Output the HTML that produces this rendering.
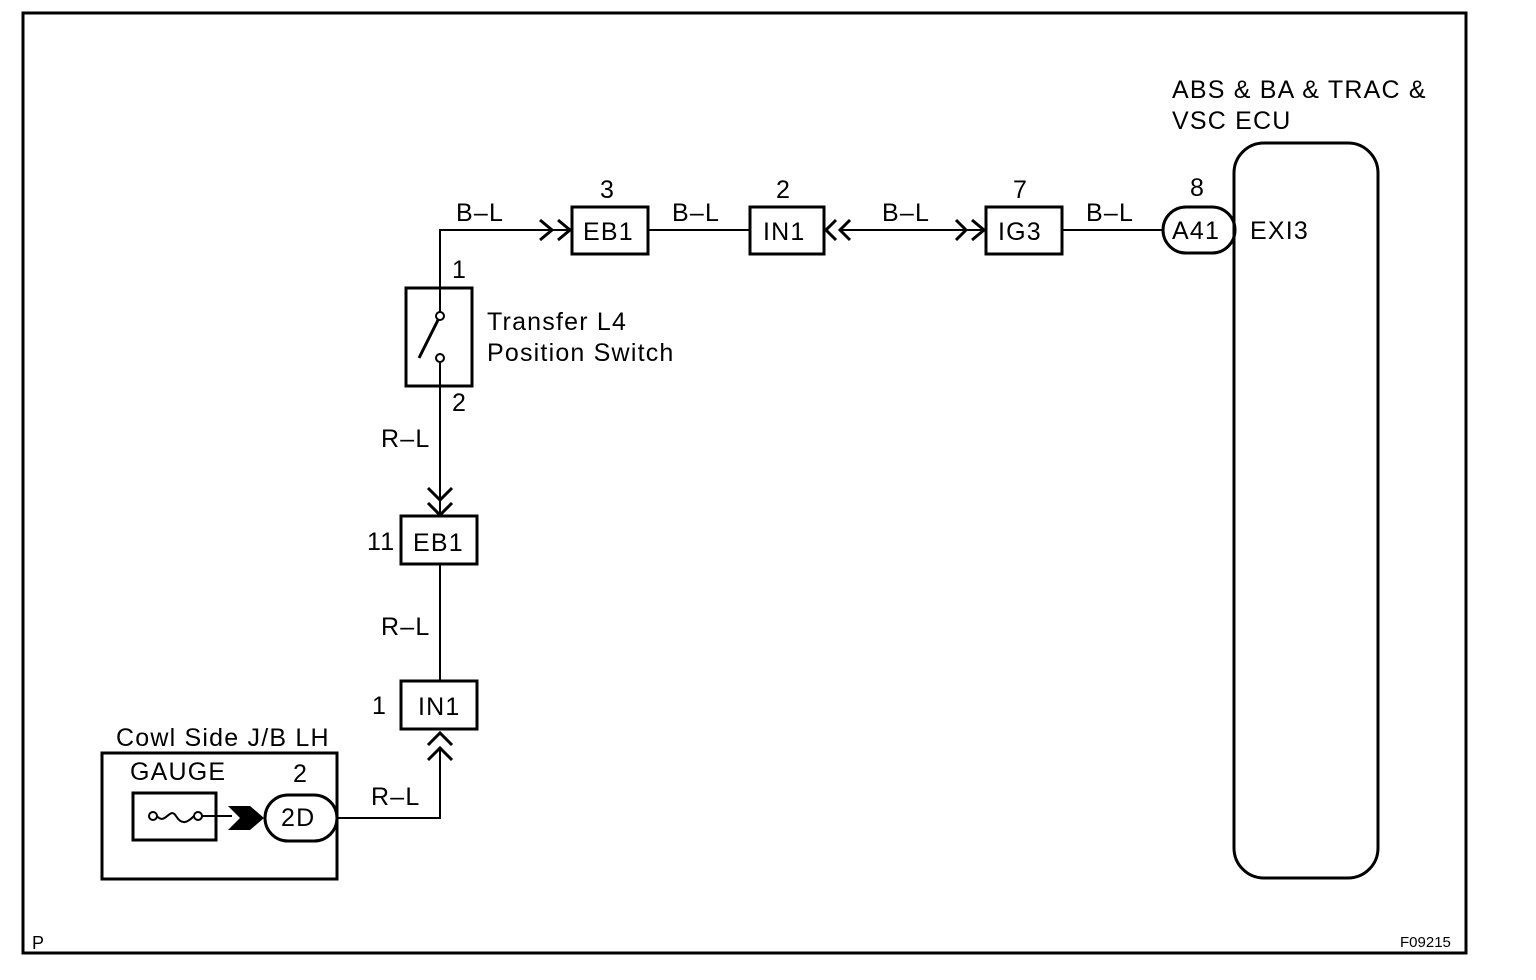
<!DOCTYPE html>
<html><head><meta charset="utf-8"><style>
html,body{margin:0;padding:0;background:#fff}
svg{display:block}
text{font-family:"Liberation Sans",Arial,sans-serif;font-size:25px;letter-spacing:1.2px;fill:#000}
</style></head><body>
<svg width="1536" height="980" viewBox="0 0 1536 980" xmlns="http://www.w3.org/2000/svg">
<g fill="none" stroke="#000">
<rect x="23" y="13" width="1443" height="940" stroke-width="3"/>
<polyline points="440,288 440,230 568,230" stroke-width="2"/>
<polyline points="540,220 552,230 540,240" stroke-width="3"/>
<polyline points="558,220 570,230 558,240" stroke-width="3"/>
<rect x="572" y="207" width="76" height="47" stroke-width="3"/>
<line x1="648" y1="230" x2="750" y2="230" stroke-width="2"/>
<rect x="750" y="207" width="74" height="47" stroke-width="3"/>
<polyline points="836,220 826,230 836,240" stroke-width="3"/>
<polyline points="850,220 840,230 850,240" stroke-width="3"/>
<line x1="840" y1="230" x2="984" y2="230" stroke-width="2"/>
<polyline points="956,220 966,230 956,240" stroke-width="3"/>
<polyline points="972,220 984,230 972,240" stroke-width="3"/>
<rect x="986" y="207" width="76" height="47" stroke-width="3"/>
<line x1="1062" y1="230" x2="1163" y2="230" stroke-width="2"/>
<rect x="1163" y="207" width="72" height="46" rx="23" stroke-width="3"/>
<rect x="1234" y="143" width="144" height="735" rx="30" stroke-width="3"/>
<rect x="406" y="288" width="66" height="98" stroke-width="3"/>
<circle cx="440" cy="316" r="4" stroke-width="2"/>
<circle cx="440" cy="358" r="4" stroke-width="2"/>
<line x1="419" y1="358" x2="438" y2="320" stroke-width="3"/>
<line x1="440" y1="288" x2="440" y2="312" stroke-width="2"/>
<line x1="440" y1="362" x2="440" y2="386" stroke-width="2"/>
<line x1="440" y1="386" x2="440" y2="513" stroke-width="2"/>
<polyline points="428,488 440,500 452,488" stroke-width="3"/>
<polyline points="428,503 440,515 452,503" stroke-width="3"/>
<rect x="401" y="516" width="76" height="48" stroke-width="3"/>
<line x1="440" y1="564" x2="440" y2="681" stroke-width="2"/>
<rect x="401" y="681" width="76" height="48" stroke-width="3"/>
<polyline points="428,745 440,733 452,745" stroke-width="3"/>
<polyline points="428,760 440,748 452,760" stroke-width="3"/>
<polyline points="440,748 440,818 337,818" stroke-width="2"/>
<rect x="102" y="753" width="235" height="126" stroke-width="3"/>
<rect x="133" y="793" width="83" height="47" stroke-width="3"/>
<circle cx="153" cy="816" r="4" stroke-width="2"/>
<circle cx="198" cy="816" r="4" stroke-width="2"/>
<path d="M157,816 C165,826 170,806 176,816 S188,822 194,816" stroke-width="2"/>
<line x1="202" y1="816" x2="232" y2="816" stroke-width="2"/>
<rect x="265" y="795" width="72" height="46" rx="23" stroke-width="3"/>
</g>
<polygon points="228,806 250,806 264,818 250,830 228,830 240,818" fill="#000"/>
<text x="456" y="221">B–L</text>
<text x="600" y="198">3</text>
<text x="583" y="240">EB1</text>
<text x="672" y="221">B–L</text>
<text x="776" y="198">2</text>
<text x="763" y="240">IN1</text>
<text x="882" y="221">B–L</text>
<text x="1013" y="198">7</text>
<text x="998" y="240">IG3</text>
<text x="1086" y="221">B–L</text>
<text x="1190" y="196">8</text>
<text x="1172" y="239">A41</text>
<text x="1250" y="239">EXI3</text>
<text x="1172" y="98">ABS &amp; BA &amp; TRAC &amp;</text>
<text x="1172" y="129">VSC ECU</text>
<text x="452" y="278">1</text>
<text x="487" y="330">Transfer L4</text>
<text x="487" y="361">Position Switch</text>
<text x="452" y="411">2</text>
<text x="381" y="447">R–L</text>
<text x="367" y="550">11</text>
<text x="413" y="551">EB1</text>
<text x="381" y="635">R–L</text>
<text x="372" y="714">1</text>
<text x="418" y="715">IN1</text>
<text x="116" y="746">Cowl Side J/B LH</text>
<text x="130" y="780">GAUGE</text>
<text x="293" y="782">2</text>
<text x="281" y="826">2D</text>
<text x="371" y="805">R–L</text>
<text x="32" y="949" style="font-size:18px;letter-spacing:0">P</text>
<text x="1400" y="947" style="font-size:15px;letter-spacing:0">F09215</text>
</svg>
</body></html>
